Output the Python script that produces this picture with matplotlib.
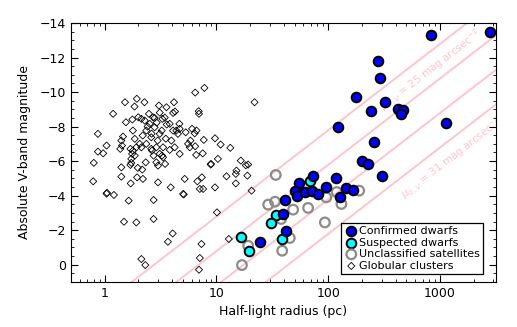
import numpy as np
import matplotlib
matplotlib.use('Agg')
import matplotlib.pyplot as plt
from matplotlib.ticker import MultipleLocator, LogLocator, NullFormatter

# confirmed dwarfs: half-light radius (pc), absolute V magnitude
dw_r = [830, 2800, 280, 292, 176, 323, 240, 420, 470, 448, 121, 1125, 255, 199, 225,
        305, 117, 144, 165, 127, 73.3, 55, 50.5, 52.7, 62.1, 71.5, 81, 95, 41.2, 39.4,
        41.7, 24.7]
dw_m = [-13.33, -13.5, -11.79, -10.8, -9.72, -9.45, -8.89, -9.03, -8.95, -8.74, -8.0,
        -8.19, -7.09, -6.03, -5.84, -5.14, -5.0, -4.45, -4.35, -3.9, -5.16, -4.71, -4.29,
        -4.0, -4.23, -4.27, -4.1, -4.48, -3.75, -2.94, -1.97, -1.29]

# suspected dwarfs
sus_r = [68.4, 33.9, 31.0, 38.2, 16.7, 19.4]
sus_m = [-4.85, -2.9, -2.42, -1.49, -1.58, -0.81]

# unclassified satellites
unc_r = [33.9, 29.0, 33.4, 48.5, 66, 37.9, 45.3, 93.2, 38.7, 19.2, 16.9, 96, 119, 131, 189]
unc_m = [-5.2, -3.48, -3.65, -3.19, -3.29, -2.65, -1.55, -2.45, -0.81, -1.1, 0.02, -3.9,
         -4.21, -3.52, -4.29]

# globular clusters
gc_r = [7.8, 6.45, 21.9, 1.94, 1.52, 2.27, 1.85, 1.19, 3.06, 3.57, 4.17, 6.94, 6.98, 1.55,
        1.77, 2.0, 2.8, 3.28, 4.26, 4.66, 0.87, 1.04, 0.87, 0.97, 0.80, 1.41, 1.43, 1.70,
        1.76, 1.92, 1.41, 1.73, 2.65, 2.74, 3.26, 3.47, 4.69, 6.05, 6.63, 7.7, 5.85, 6.45,
        9.7, 10.9, 13.3, 4.69, 5.77, 6.58, 7.54, 8.94, 10.3, 16.5, 18.3, 19.2, 1.46, 1.79,
        1.86, 2.06, 2.13, 2.49, 4.09, 2.71, 3.82, 4.38, 3.95, 3.11, 2.9, 3.33, 2.61, 2.36,
        2.53, 2.8, 2.36, 2.13, 1.38, 1.79, 1.73, 1.86, 2.61, 3.11, 3.33, 3.0, 3.82, 4.23,
        3.0, 3.9, 2.74, 0.79, 1.05, 1.04, 1.21, 1.41, 1.71, 1.64, 1.49, 1.92, 1.95, 2.2,
        1.98, 2.17, 1.70, 2.74, 5.03, 5.1, 5.2, 6.75, 7.4, 7.1, 7.6, 9.7, 10.1, 12.3, 15.1,
        14.9, 14.9, 18.9, 20.6, 3.68, 4.06, 7.34, 7.1, 6.98, 12.9, 2.13, 2.31, 8.89, 2.33,
        2.9, 5.31, 6.39, 4.52, 5.57, 4.09, 2.42, 2.63, 2.92, 3.24, 3.52, 2.28, 2.98, 3.59,
        2.19, 3.11, 3.45]
gc_m = [-10.24, -9.97, -9.41, -9.61, -9.41, -9.41, -9.16, -8.74, -9.22, -9.12, -9.41, -8.89,
        -8.74, -8.25, -8.41, -8.54, -8.5, -8.45, -8.87, -8.16, -7.58, -6.9, -6.55, -6.45,
        -5.9, -7.19, -6.9, -6.71, -6.42, -6.8, -5.64, -5.9, -6.61, -6.32, -6.32, -5.84,
        -7.87, -7.87, -7.77, -7.23, -7.19, -6.86, -7.32, -6.96, -6.77, -6.42, -6.8, -6.36,
        -6.45, -5.84, -6.13, -6.03, -5.76, -5.8, -7.42, -7.77, -7.29, -7.0, -8.45, -8.74,
        -8.79, -8.54, -8.16, -7.77, -7.19, -7.58, -6.8, -6.8, -7.38, -7.77, -8.16, -7.96,
        -7.0, -6.8, -6.71, -6.61, -6.13, -6.32, -6.71, -6.42, -6.22, -5.74, -6.65, -6.8,
        -4.77, -4.48, -3.75, -4.83, -4.16, -4.12, -4.04, -5.1, -4.71, -3.71, -2.49, -2.45,
        -5.06, -4.97, -5.61, -5.51, -5.78, -2.65, -4.1, -4.07, -4.97, -4.83, -5.06, -4.39,
        -4.39, -4.48, -3.03, -5.12, -5.45, -5.26, -4.71, -5.16, -4.29, -1.33, -1.81, -1.2,
        -0.39, 0.29, -1.49, -0.33, 0.02, -5.8, -5.93, -5.93, -7.67, -7.61, -7.58, -7.0,
        -7.77, -8.0, -7.59, -8.23, -7.77, -7.3, -8.35, -7.19, -8.12, -7.48, -8.81, -8.52]

# constant surface brightness lines
mu_levels = [25, 27, 29, 31]
mu_offset = 22.79

fig = plt.figure(figsize=(5.17, 3.27), dpi=100)
ax = fig.add_axes([0.1373, 0.1376, 0.8221, 0.7921])

ax.set_xscale('log')
ax.set_xlim(0.5, 3162)
ax.set_ylim(1, -14)

rr = np.logspace(-0.5, 3.7, 50)
for mu in mu_levels:
    ax.plot(rr, mu - mu_offset - 5 * np.log10(rr), color='#ffc4cc', lw=1.4, zorder=1)

ax.scatter(gc_r, gc_m, marker='D', s=13, facecolors='none', edgecolors='black',
           linewidths=0.6, zorder=2, label='Globular clusters')
ax.scatter(unc_r, unc_m, marker='o', s=48, facecolors='none', edgecolors='#8c8c8c',
           linewidths=1.6, zorder=3, label='Unclassified satellites')
ax.scatter(sus_r, sus_m, marker='o', s=48, facecolors='#00ffff', edgecolors='black',
           linewidths=1.4, zorder=4, label='Suspected dwarfs')
ax.scatter(dw_r, dw_m, marker='o', s=48, facecolors='#0000ff', edgecolors='black',
           linewidths=1.4, zorder=5, label='Confirmed dwarfs')

# labels along the lines
fig.canvas.draw()
p1 = ax.transData.transform((10, 0))
p2 = ax.transData.transform((100, -5))
ang = np.degrees(np.arctan2(p2[1] - p1[1], p2[0] - p1[0]))
for mu, rpos in [(25, 690), (31, 1050)]:
    mpos = mu - mu_offset - 5 * np.log10(rpos)
    ax.annotate(r'$\mu_{0,V}$ = %d mag arcsec$^{-2}$' % mu, (rpos, mpos),
                xytext=(3, -4), textcoords='offset points', rotation=ang,
                rotation_mode='anchor', ha='center', va='top', color='#ffc4cc',
                fontsize=7.5, zorder=1)

ax.set_xticks([1, 10, 100, 1000])
ax.set_xticklabels(['1', '10', '100', '1000'])
ax.xaxis.set_minor_locator(LogLocator(base=10, subs=np.arange(2, 10)))
ax.xaxis.set_minor_formatter(NullFormatter())
ax.set_yticks(np.arange(-14, 1, 2))
ax.yaxis.set_minor_locator(MultipleLocator(0.5))
ax.tick_params(which='both', direction='in', top=True, right=True, labelsize=9)
ax.tick_params(which='major', length=5)
ax.tick_params(which='minor', length=2.5)

ax.set_xlabel('Half-light radius (pc)', fontsize=9)
ax.set_ylabel('Absolute V-band magnitude', fontsize=9, labelpad=6)

h, l = ax.get_legend_handles_labels()
leg = ax.legend(h[::-1], l[::-1], loc='lower right', bbox_to_anchor=(0.97, 0.03),
                fontsize=8, handletextpad=0.1, labelspacing=0.15, borderpad=0.3,
                handlelength=1.2, borderaxespad=0, fancybox=False, edgecolor='black',
                framealpha=1)
leg.get_frame().set_linewidth(0.9)

fig.savefig('out.png', dpi=100)
